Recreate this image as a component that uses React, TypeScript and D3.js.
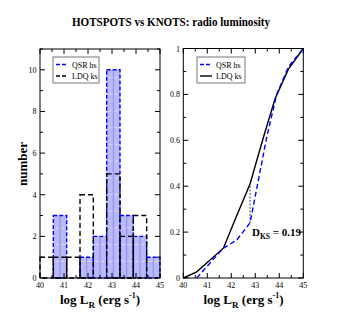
import React from "react";
import * as d3 from "d3";

const binEdges = [40, 40.556, 41.111, 41.667, 42.222, 42.778, 43.333, 43.889, 44.444, 45];
const qsrCounts = [0, 3, 0, 1, 2, 10, 3, 2, 1];
const ldqCounts = [1, 1, 1, 4, 0, 5, 2, 3, 0];

const qsrCdfX = [40.56, 41.67, 42.22, 42.78, 43.47, 43.89, 44.38, 45];
const qsrCdfY = [0, 0.13, 0.165, 0.24, 0.61, 0.8, 0.92, 1];
const ldqCdfX = [40, 40.56, 41.67, 42.22, 42.78, 43.33, 43.82, 44.38, 45];
const ldqCdfY = [0, 0.027, 0.13, 0.27, 0.41, 0.61, 0.78, 0.91, 1];

const xTicks = [40, 41, 42, 43, 44, 45];
const histYTicks = [0, 2, 4, 6, 8, 10];
const cdfYTicks = [0, 0.2, 0.4, 0.6, 0.8, 1];
const cdfYLabels = ["0", "0.2", "0.4", "0.6", "0.8", "1"];
const dksX = 42.78;
const dksLow = 0.24;
const dksHigh = 0.41;
const dksLabel = "0.19";

const FONT = "'Liberation Serif', 'DejaVu Serif', serif";

function Frame({ x0, x1, y0, y1, xs, ys, xMinor, yMajor, yMinor }: any) {
  const items: any[] = [];
  xMinor.forEach((v: number, i: number) => {
    const X = xs(v);
    const major = Number.isInteger(v);
    const L = major ? 5 : 3;
    items.push(<line key={"xb" + i} x1={X} x2={X} y1={y1} y2={y1 - L} stroke="#000" />);
    items.push(<line key={"xt" + i} x1={X} x2={X} y1={y0} y2={y0 + L} stroke="#000" />);
  });
  yMinor.forEach((v: number, i: number) => {
    const Y = ys(v);
    const major = yMajor.some((m: number) => Math.abs(m - v) < 1e-9);
    const L = major ? 5 : 3;
    items.push(<line key={"yl" + i} x1={x0} x2={x0 + L} y1={Y} y2={Y} stroke="#000" />);
    items.push(<line key={"yr" + i} x1={x1} x2={x1 - L} y1={Y} y2={Y} stroke="#000" />);
  });
  return (
    <g>
      {items}
      <rect x={x0} y={y0} width={x1 - x0} height={y1 - y0} fill="none" stroke="#000" strokeWidth={1} />
    </g>
  );
}

function XLabel({ cx }: { cx: number }) {
  return (
    <text x={cx} y={304} textAnchor="middle" fontFamily={FONT} fontWeight="bold" fontSize={13}>
      log L<tspan fontSize={9} dy={4}>R</tspan>
      <tspan dy={-4}> (erg s</tspan>
      <tspan fontSize={8} dy={-6}>-1</tspan>
      <tspan dy={6}>)</tspan>
    </text>
  );
}

export default function App() {
  const W = 343, H = 327;
  const lx = d3.scaleLinear().domain([40, 45]).range([40, 160]);
  const ly = d3.scaleLinear().domain([0, 11]).range([278, 49]);
  const rx = d3.scaleLinear().domain([40, 45]).range([183.3, 303.3]);
  const ry = d3.scaleLinear().domain([0, 1]).range([278, 48.5]);

  const halfTicks = d3.range(40, 45.01, 0.5).map((v) => Math.round(v * 10) / 10);
  const histMinorY = d3.range(0, 11.01, 1);
  const cdfMinorY = d3.range(0, 1.001, 0.1).map((v) => Math.round(v * 10) / 10);

  const bins = qsrCounts.map((c, i) => ({ x0: binEdges[i], x1: binEdges[i + 1], q: c, l: ldqCounts[i] }));

  const qsrLine = d3.line<number>().x((d, i) => rx(qsrCdfX[i])).y((d) => ry(d));
  const ldqLine = d3.line<number>().x((d, i) => rx(ldqCdfX[i])).y((d) => ry(d));

  const base = ly(0);
  const step = 16.7;

  return (
    <svg width={W} height={H} style={{ position: "absolute", left: 0, top: 0, background: "#fff" }}>
      <text x={171} y={26} textAnchor="middle" fontFamily={FONT} fontWeight="bold" fontSize={13} textLength={198} lengthAdjust="spacingAndGlyphs">
        HOTSPOTS vs KNOTS: radio luminosity
      </text>

      <g>
        {bins.map((b, i) => {
          const X0 = lx(b.x0), X1 = lx(b.x1), Y = ly(b.q);
          const lines = d3.range(base - step, Y + 0.5, -step);
          return (
            <g key={"q" + i}>
              {b.q > 0 && <rect x={X0} y={Y} width={X1 - X0} height={base - Y} fill="#b9b9f7" />}
              {b.q > 0 && lines.map((yy, k) => (
                <line key={k} x1={X0} x2={X1} y1={yy} y2={yy} stroke="#fff" strokeWidth={0.8} strokeDasharray="1.5,1.5" />
              ))}
              {b.q > 0 && <line x1={(X0 + X1) / 2} x2={(X0 + X1) / 2} y1={Y} y2={base} stroke="#7f7fef" strokeWidth={0.8} />}
              <rect x={X0} y={Y} width={X1 - X0} height={base - Y} fill="none" stroke="#0000ff" strokeWidth={1.4} strokeDasharray="4,2" />
            </g>
          );
        })}
        {bins.map((b, i) => {
          const X0 = lx(b.x0), X1 = lx(b.x1), Y = ly(b.l);
          return (
            <rect key={"l" + i} x={X0} y={Y} width={X1 - X0} height={base - Y} fill="none" stroke="#000" strokeWidth={1.4} strokeDasharray="5,3" />
          );
        })}
      </g>

      <Frame x0={40} x1={160} y0={49} y1={278} xs={lx} ys={ly} xMinor={halfTicks} yMajor={histYTicks} yMinor={histMinorY} />
      {xTicks.map((t) => (
        <text key={"lxt" + t} x={lx(t)} y={288} textAnchor="middle" fontFamily={FONT} fontSize={8} fill="#000">{t}</text>
      ))}
      {histYTicks.map((t) => (
        <text key={"lyt" + t} x={36.5} y={ly(t) + 3} textAnchor="end" fontFamily={FONT} fontSize={8} fill="#000">{t}</text>
      ))}
      <text transform="translate(27,164) rotate(-90)" textAnchor="middle" fontFamily={FONT} fontWeight="bold" fontSize={13}>number</text>
      <XLabel cx={100} />

      <rect x={53} y={57} width={46} height={26} fill="#fff" stroke="#555" strokeWidth={0.8} />
      <line x1={56} x2={68} y1={64.5} y2={64.5} stroke="#0000ff" strokeWidth={1.4} strokeDasharray="4,2" />
      <text x={72} y={67.5} fontFamily={FONT} fontSize={8}>QSR hs</text>
      <line x1={56} x2={68} y1={76} y2={76} stroke="#000" strokeWidth={1.4} strokeDasharray="4,2" />
      <text x={72} y={79} fontFamily={FONT} fontSize={8}>LDQ ks</text>

      <line x1={rx(dksX)} x2={rx(dksX)} y1={ry(dksLow)} y2={ry(dksHigh)} stroke="#444" strokeWidth={1} strokeDasharray="2,1.5" />
      <path d={ldqLine(ldqCdfY) || ""} fill="none" stroke="#000" strokeWidth={1.4} />
      <path d={qsrLine(qsrCdfY) || ""} fill="none" stroke="#0000ff" strokeWidth={1.4} strokeDasharray="5,3" />
      <Frame x0={183.3} x1={303.3} y0={48.5} y1={278} xs={rx} ys={ry} xMinor={halfTicks} yMajor={cdfYTicks} yMinor={cdfMinorY} />
      {xTicks.map((t) => (
        <text key={"rxt" + t} x={rx(t)} y={288} textAnchor="middle" fontFamily={FONT} fontSize={8} fill="#000">{t}</text>
      ))}
      {cdfYTicks.map((t, i) => (
        <text key={"ryt" + t} x={180} y={ry(t) + 3} textAnchor="end" fontFamily={FONT} fontSize={8} fill="#000">{cdfYLabels[i]}</text>
      ))}
      <text x={252} y={236} fontFamily={FONT} fontWeight="bold" fontSize={11}>
        D<tspan fontSize={7.5} dy={3}>KS</tspan>
        <tspan dy={-3}> = {dksLabel}</tspan>
      </text>
      <XLabel cx={243.5} />

      <rect x={197} y={57} width={48} height={26} fill="#fff" stroke="#555" strokeWidth={0.8} />
      <line x1={200} x2={212} y1={64.5} y2={64.5} stroke="#0000ff" strokeWidth={1.4} strokeDasharray="4,2" />
      <text x={216} y={67.5} fontFamily={FONT} fontSize={8}>QSR hs</text>
      <line x1={200} x2={212} y1={76} y2={76} stroke="#000" strokeWidth={1.4} />
      <text x={216} y={79} fontFamily={FONT} fontSize={8}>LDQ ks</text>
    </svg>
  );
}
